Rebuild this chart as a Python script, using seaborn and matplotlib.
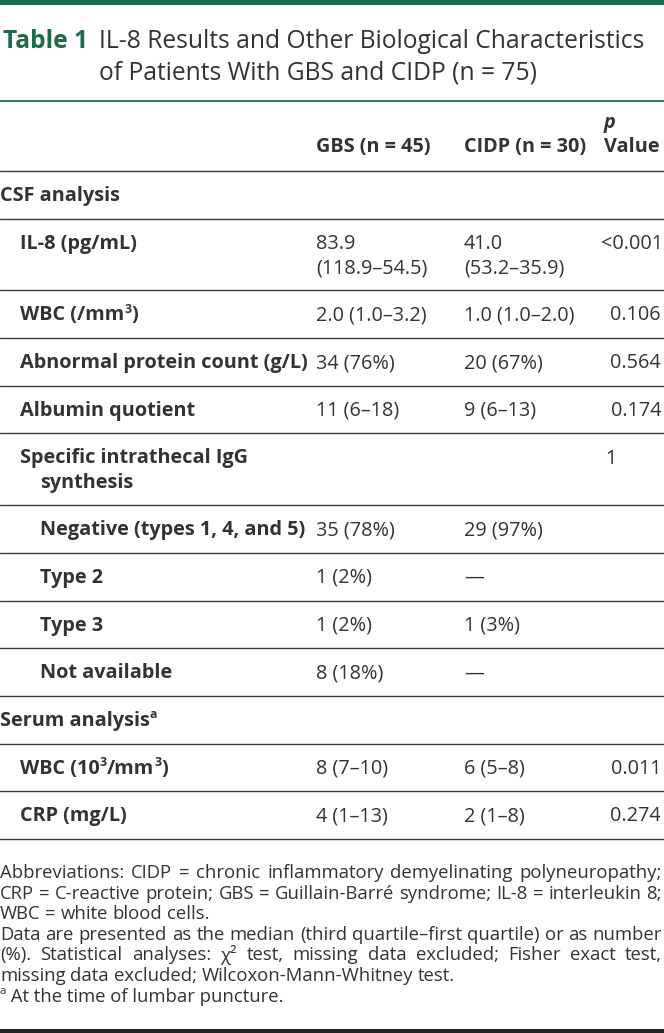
import re
import seaborn as sns
import matplotlib
matplotlib.use("Agg")
import matplotlib.pyplot as plt

W, H = 664, 1033
GREEN = "#1c6b4b"
INK = "#333333"

# --- table content ---
title_tag = "Table 1"
title_lines = ["IL-8 Results and Other Biological Characteristics",
               "of Patients With GBS and CIDP (n = 75)"]
col_heads = ["GBS (n = 45)", "CIDP (n = 30)"]
p_head = ["p", "Value"]

row_labels = ["CSF analysis", "IL-8 (pg/mL)", "WBC (/mm{3})", "Abnormal protein count (g/L)",
              "Albumin quotient", "Specific intrathecal IgG\nsynthesis",
              "Negative (types 1, 4, and 5)", "Type 2", "Type 3", "Not available",
              "Serum analysis{a}", "WBC (10{3}/mm{3})", "CRP (mg/L)"]
row_level = [0, 1, 1, 1, 1, 1, 2, 2, 2, 2, 0, 1, 1]
gbs_vals = ["", "83.9\n(118.9–54.5)", "2.0 (1.0–3.2)", "34 (76%)", "11 (6–18)", "",
            "35 (78%)", "1 (2%)", "1 (2%)", "8 (18%)", "", "8 (7–10)", "4 (1–13)"]
cidp_vals = ["", "41.0\n(53.2–35.9)", "1.0 (1.0–2.0)", "20 (67%)", "9 (6–13)", "",
             "29 (97%)", "—", "1 (3%)", "—", "", "6 (5–8)", "2 (1–8)"]
p_vals = ["", "<0.001", "0.106", "0.564", "0.174", "1", "", "", "", "", "", "0.011", "0.274"]

notes = [("Abbreviations: CIDP = chronic inflammatory demyelinating polyneuropathy;", True),
         ("CRP = C-reactive protein; GBS = Guillain-Barré syndrome; IL-8 = interleukin 8;", True),
         ("WBC = white blood cells.", False),
         ("Data are presented as the median (third quartile–first quartile) or as number", True),
         ("(%). Statistical analyses: χ² test, missing data excluded; Fisher exact test,", True),
         ("missing data excluded; Wilcoxon-Mann-Whitney test.", False)]
last_note = "At the time of lumbar puncture."

sns.set_theme(style="white")
plt.rcParams["font.family"] = ["Open Sans", "DejaVu Sans"]

fig = plt.figure(figsize=(W / 100, H / 100), dpi=100)
ax = fig.add_axes([0, 0, 1, 1])
ax.set_xlim(0, W)
ax.set_ylim(H, 0)
ax.axis("off")
renderer = fig.canvas.get_renderer()


def width_of(s, size, **kw):
    t = ax.text(0, 0, s, fontsize=size, **kw)
    w = t.get_window_extent(renderer).width
    t.remove()
    return w


def rich(x, y, s, size, **kw):
    # text with {..} marking superscripts
    cur = x
    for part in re.split(r"(\{[^}]*\})", s):
        if not part:
            continue
        if part.startswith("{"):
            t = ax.text(cur, y - size * 0.42, part[1:-1], fontsize=size * 0.62,
                        va="center", **kw)
        else:
            t = ax.text(cur, y, part, fontsize=size, va="center", **kw)
        cur += t.get_window_extent(renderer).width
    return cur


# font sizes fitted to the reference widths
body_fs = 10 * 290 / width_of("Abnormal protein count (g/L)", 10, fontweight="bold")
title_fs = 10 * 546 / width_of(title_lines[0], 10)
note_fs = 10 * 660 / max(width_of(s, 10) for s, j in notes if j)

# --- rules and bars ---
ax.axhspan(0, 5, color=GREEN, lw=0)
ax.axhline(101, color="#2f7a59", lw=1.4)
ax.axhspan(1029, H, color="#222222", lw=0)

# --- title ---
ax.text(3, 41, title_tag, fontsize=title_fs, fontweight="bold", color=GREEN, va="center")
for i, line in enumerate(title_lines):
    ax.text(99, 41 + 32 * i, line, fontsize=title_fs, color=INK, va="center")

# --- header ---
ax.text(316, 147, col_heads[0], fontsize=body_fs, fontweight="bold", color=INK, va="center")
ax.text(464, 147, col_heads[1], fontsize=body_fs, fontweight="bold", color=INK, va="center")
ax.text(604, 123, p_head[0], fontsize=body_fs, fontweight="bold", fontstyle="italic",
        color=INK, va="center")
ax.text(604, 147, p_head[1], fontsize=body_fs, fontweight="bold", color=INK, va="center")

rule = dict(color="#3a3a3a", lw=1.0)
top = 171
ax.axhline(top, **rule)
indent = [0, 20, 40]
for lab, lev, g, c, p in zip(row_labels, row_level, gbs_vals, cidp_vals, p_vals):
    nlines = max(lab.count("\n"), g.count("\n")) + 1
    h = 47.7 + 24 * (nlines - 1)
    y0 = top + 25
    for k, part in enumerate(lab.split("\n")):
        x = indent[lev] if k == 0 else 40
        rich(x, y0 + 24.5 * k, part, body_fs, fontweight="bold", color=INK)
    for xc, val in ((316, g), (464, c)):
        for k, part in enumerate(val.split("\n")):
            if part:
                ax.text(xc, y0 + 24.5 * k, part, fontsize=body_fs, color=INK, va="center")
    if p == "1":
        ax.text(605, y0, p, fontsize=body_fs, color=INK, va="center")
    elif p == "<0.001":
        ax.text(663, y0, p, fontsize=body_fs, color=INK, va="center", ha="right")
    elif p:
        ax.text(661, y0, p, fontsize=body_fs, color=INK, va="center", ha="right")
    top += h
    ax.axhline(top, **rule)

# --- footnotes (justified) ---
space_w = width_of("x x", note_fs) - 2 * width_of("x", note_fs)
ny = 873
for line, justify in notes:
    words = line.split(" ")
    ws = [width_of(w, note_fs) for w in words]
    gap = (662 - sum(ws)) / (len(words) - 1) if justify else space_w
    x = 0
    for w, wd in zip(words, ws):
        ax.text(x, ny, w, fontsize=note_fs, color=INK, va="center")
        x += wd + gap
    ny += 20.6
rich(0, ny, "{a} " + last_note, note_fs, color=INK)

fig.savefig("out.png", dpi=100)
